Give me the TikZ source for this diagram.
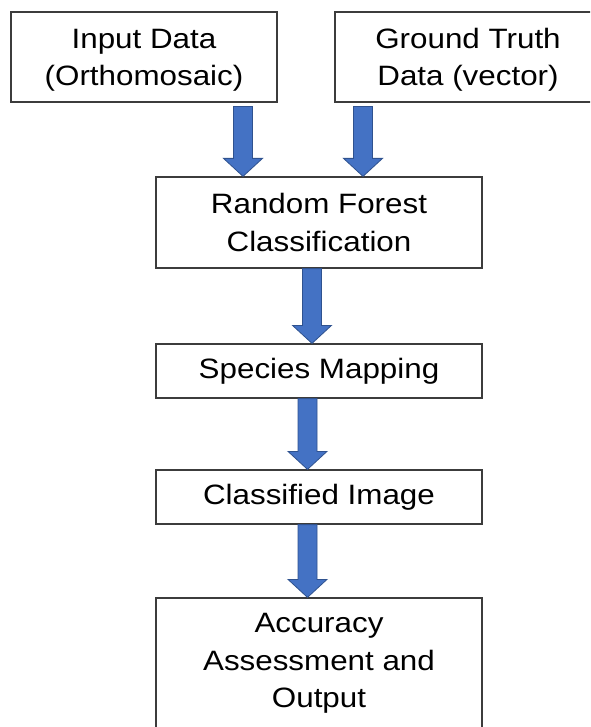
\documentclass[tikz,border=0pt]{standalone}
\usepackage{fontspec}
\setmainfont{Liberation Sans}[FakeStretch=1.12]
\usetikzlibrary{calc}
\definecolor{arrfill}{RGB}{68,114,196}
\definecolor{arrdraw}{RGB}{47,82,143}
\definecolor{boxline}{RGB}{60,60,60}
\begin{document}
\begin{tikzpicture}[x=1pt,y=-1pt,
  frame/.style={draw=boxline, line width=1.2pt},
  box/.style={frame, fill=white, align=center, inner sep=0pt, font=\fontsize{28}{37.5}\selectfont},
  topbox/.style={box, minimum width=266pt, minimum height=90pt},
  blockarrow/.style={draw=arrdraw, fill=arrfill, line width=0.8pt, line join=miter,
    to path={let \p1=(\tikztostart), \p2=(\tikztotarget) in
      (\x1-9.5pt,\y1) -- (\x1-9.5pt,\y2+18pt) -- (\x1-19.5pt,\y2+18pt) -- (\x1,\y2)
      -- (\x1+19.5pt,\y2+18pt) -- (\x1+9.5pt,\y2+18pt) -- (\x1+9.5pt,\y1) -- cycle}}]
\useasboundingbox (0,0) rectangle (590,727);
\clip (0,0) rectangle (590,727);
\fill[white] (0,0) rectangle (590,727);
\node[topbox] (in) at (144,57) {\rule{0pt}{25.5pt}Input Data\\(Orthomosaic)};
\node[topbox] (gt) at (468,57) {\rule{0pt}{25.5pt}Ground Truth\\Data (vector)};
\node[box, minimum width=326pt, minimum height=91pt] (rf) at (319,222.5) {Random Forest\\Classification};
\node[box, minimum width=326pt, minimum height=54pt] (sp) at (319,371) {Species Mapping};
\node[box, minimum width=326pt, minimum height=54pt] (ci) at (319,497) {Classified Image};
\node[box, minimum width=326pt, minimum height=131pt] (acc) at (319,663.5) {Accuracy\\Assessment and\\Output};
\draw[blockarrow] ([xshift=99pt,yshift=-4pt]in.south) to ([xshift=-76pt]rf.north);
\draw[blockarrow] ([xshift=-105pt,yshift=-4pt]gt.south) to ([xshift=44pt]rf.north);
\draw[blockarrow] ([xshift=-7pt]rf.south) to ([xshift=-7pt]sp.north);
\draw[blockarrow] ([xshift=-11.5pt]sp.south) to ([xshift=-11.5pt]ci.north);
\draw[blockarrow] ([xshift=-11.5pt]ci.south) to ([xshift=-11.5pt]acc.north);
\end{tikzpicture}
\end{document}
